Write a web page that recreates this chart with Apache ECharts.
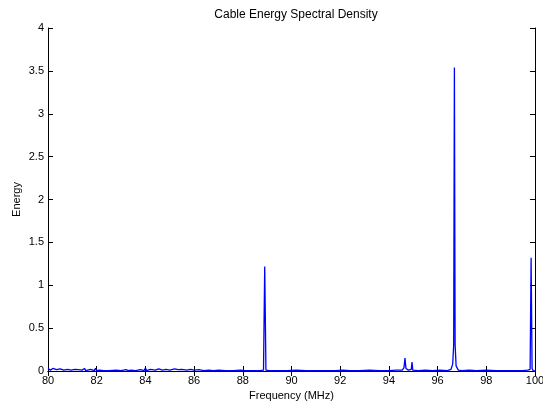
<!DOCTYPE html>
<html>
<head>
<meta charset="utf-8">
<script src="https://cdn.jsdelivr.net/npm/echarts@6/dist/echarts.min.js"></script>
<style>html,body{margin:0;padding:0;background:#fff;}#c{width:543px;height:402px;}</style>
</head>
<body>
<div id="c"></div>
<script>
var titleText = 'Cable Energy Spectral Density';
var xName = 'Frequency (MHz)';
var yName = 'Energy';
var freq = [80.0, 80.1, 80.2, 80.35, 80.5, 80.65, 80.8, 80.95, 81.1, 81.25, 81.4, 81.5, 81.55, 81.6, 81.75, 81.9, 81.95, 82.0, 82.1, 82.3, 82.5, 82.8, 83.0, 83.2, 83.3, 83.4, 83.6, 83.8, 83.95, 84.0, 84.05, 84.2, 84.4, 84.55, 84.7, 84.85, 85.0, 85.2, 85.35, 85.5, 85.7, 85.85, 86.0, 86.2, 86.4, 86.6, 86.8, 87.0, 87.3, 87.6, 87.9, 88.1, 88.3, 88.5, 88.7, 88.85, 88.9, 88.95, 89.1, 89.4, 89.8, 90.2, 90.6, 91.0, 91.4, 91.8, 92.1, 92.4, 92.8, 93.2, 93.6, 94.0, 94.3, 94.55, 94.62, 94.66, 94.7, 94.8, 94.92, 94.95, 94.98, 95.2, 95.5, 95.8, 96.1, 96.4, 96.55, 96.62, 96.66, 96.69, 96.72, 96.76, 96.85, 97.0, 97.3, 97.6, 98.0, 98.4, 98.8, 99.2, 99.5, 99.7, 99.8, 99.84, 99.88, 99.92, 100.0];
var energy = [0.03, 0.01, 0.03, 0.015, 0.025, 0.01, 0.02, 0.01, 0.02, 0.015, 0.01, 0.03, 0.005, 0.01, 0.02, 0.005, 0.03, 0.005, 0.01, 0.005, 0.005, 0.01, 0.005, 0.015, 0.005, 0.01, 0.005, 0.015, 0.005, 0.035, 0.005, 0.02, 0.01, 0.025, 0.01, 0.02, 0.01, 0.025, 0.015, 0.02, 0.01, 0.02, 0.01, 0.015, 0.005, 0.01, 0.005, 0.01, 0.005, 0.005, 0.01, 0.005, 0.005, 0.005, 0.005, 0.01, 1.22, 0.01, 0.005, 0.005, 0.005, 0.01, 0.005, 0.005, 0.005, 0.005, 0.01, 0.005, 0.005, 0.01, 0.005, 0.005, 0.01, 0.01, 0.04, 0.15, 0.03, 0.01, 0.02, 0.105, 0.01, 0.005, 0.01, 0.005, 0.01, 0.005, 0.02, 0.08, 0.3, 3.54, 0.3, 0.06, 0.01, 0.005, 0.01, 0.005, 0.01, 0.005, 0.005, 0.005, 0.005, 0.01, 0.02, 1.32, 0.03, 0.005, 0.0];
var xTicks = [80, 82, 84, 86, 88, 90, 92, 94, 96, 98, 100];
var yTicks = [0, 0.5, 1, 1.5, 2, 2.5, 3, 3.5, 4];

var pts = freq.map(function (f, i) { return [f, energy[i]]; });
var font = 'Liberation Sans, Arial, sans-serif';
var axisCommon = {
  axisLine: { show: true, lineStyle: { color: '#000', width: 1 } },
  axisTick: { show: true, inside: true, length: 5, lineStyle: { color: '#000' } },
  splitLine: { show: false }
};
var chart = echarts.init(document.getElementById('c'), null, { renderer: 'canvas' });
chart.setOption({
  animation: false,
  backgroundColor: '#fff',
  title: { text: titleText, left: 291, textAlign: 'center', top: 4,
    textStyle: { fontFamily: font, fontSize: 12, fontWeight: 'normal', color: '#000' } },
  grid: { left: 48, right: 8, top: 28, bottom: 31, containLabel: false, outerBoundsMode: 'none' },
  xAxis: [
    Object.assign({ type: 'value', position: 'bottom', min: xTicks[0], max: xTicks[xTicks.length - 1], interval: 2,
      name: xName, nameLocation: 'middle', nameGap: 19, nameMoveOverlap: false,
      nameTextStyle: { fontFamily: font, fontSize: 11, color: '#000' },
      axisLabel: { fontFamily: font, fontSize: 11, color: '#000', margin: 4 } }, axisCommon),
    Object.assign({ type: 'value', position: 'top', min: xTicks[0], max: xTicks[xTicks.length - 1], interval: 2,
      axisLabel: { show: false } }, axisCommon)
  ],
  yAxis: [
    Object.assign({ type: 'value', position: 'left', min: yTicks[0], max: yTicks[yTicks.length - 1], interval: 0.5,
      name: yName, nameLocation: 'middle', nameGap: 26, nameMoveOverlap: false,
      nameTextStyle: { fontFamily: font, fontSize: 11, color: '#000' },
      axisLabel: { fontFamily: font, fontSize: 11, color: '#000', margin: 4 } }, axisCommon),
    Object.assign({ type: 'value', position: 'right', min: yTicks[0], max: yTicks[yTicks.length - 1], interval: 0.5,
      axisLabel: { show: false } }, axisCommon)
  ],
  series: [{
    type: 'line', data: pts, xAxisIndex: 0, yAxisIndex: 0,
    showSymbol: false, symbol: 'none',
    lineStyle: { color: '#0000ff', width: 1.3 },
    z: 1
  }]
});
</script>
</body>
</html>
